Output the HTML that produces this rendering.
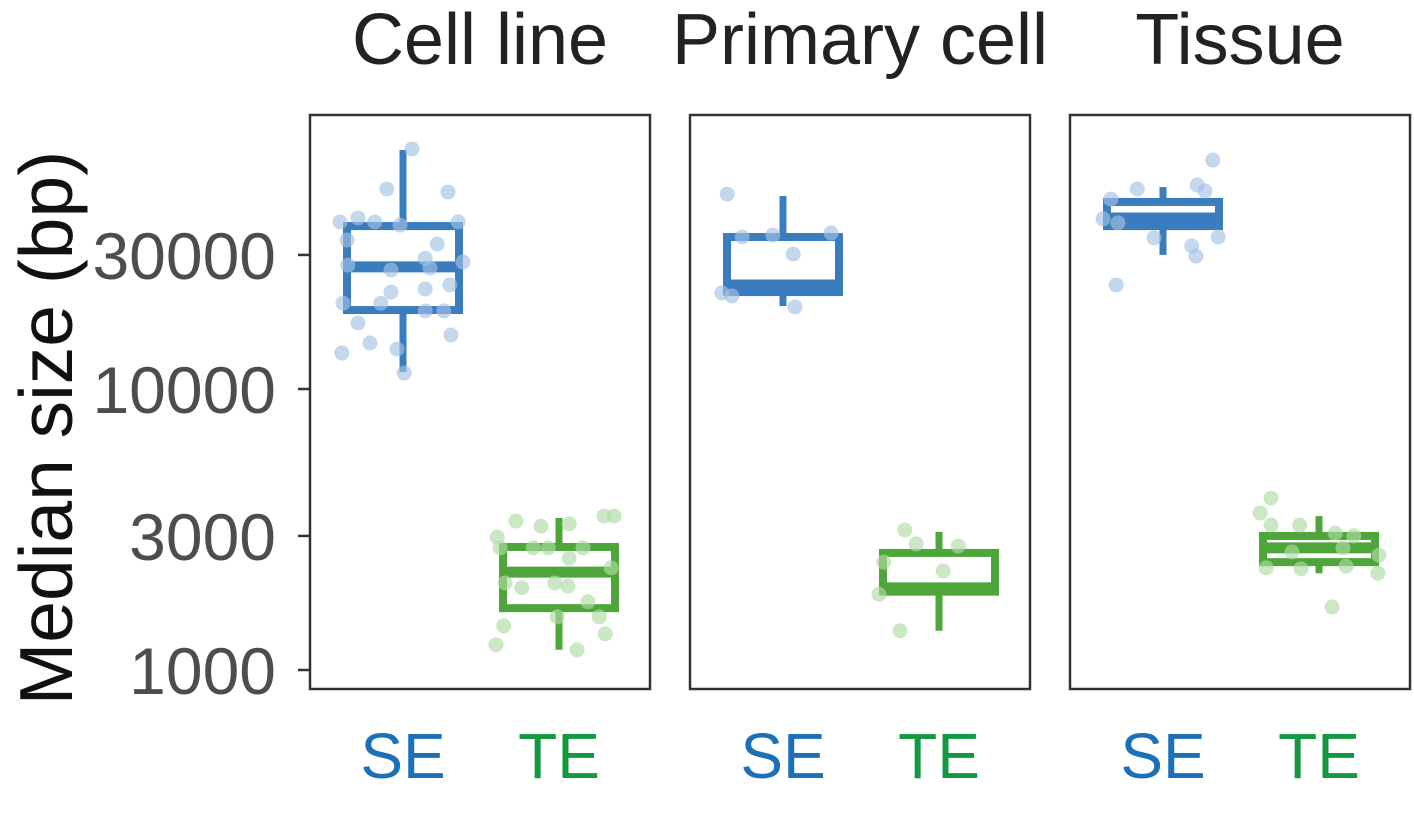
<!DOCTYPE html>
<html><head><meta charset="utf-8"><style>
html,body{margin:0;padding:0;background:#fff;}
svg text{font-family:"Liberation Sans",Arial,sans-serif;}
</style></head><body>
<svg id="chart" width="1414" height="809" xmlns="http://www.w3.org/2000/svg"></svg>
<script>
const panelNames = ["Cell line","Primary cell","Tissue"];
const groups = ["SE","TE"];
const tickValues = [1000,3000,10000,30000];
const tickLabels = ["1000","3000","10000","30000"];
// box stats: [lowWhisker, q1, median, q3, highWhisker]
const boxCellSE = [11500,19100,27200,38000,70900];
const boxCellTE = [1180,1660,2230,2740,3475];
const boxPrimSE = [19740,22130,23450,34750,48600];
const boxPrimTE = [1380,1900,1960,2610,3100];
const boxTisSE = [30000,38000,40600,46300,52300];
const boxTisTE = [2210,2420,2720,3000,3530];
const ptsCellSE = [71500,51500,50200,39300,40600,39300,39300,38300,33900,32800,29200,28300,26950,27600,26500,23450,22700,20200,20200,22130,18950,18950,17180,15560,14580,13430,13870,11400];
const jitCellSE = [0.15,-0.27,0.75,-1.05,-0.75,-0.47,0.92,-0.05,-0.93,0.57,0.37,1.0,0.45,-0.92,-0.2,0.78,0.37,-1.0,-0.37,-0.2,0.37,0.68,-0.75,0.8,-0.55,-1.02,-0.1,0.02];
const ptsCellTE = [3390,3250,3310,3530,3530,2720,2970,2720,2720,2720,2500,2310,2040,1960,2040,1990,1750,1545,1545,1435,1345,1230,1180];
const jitCellTE = [-0.72,-0.3,0.17,0.75,0.92,-0.98,-1.03,-0.43,-0.18,0.4,0.17,0.87,-0.9,-0.62,-0.07,0.15,0.48,-0.03,0.67,-0.92,0.77,-1.05,0.3];
const ptsPrimSE = [49400,34750,35300,35900,30200,21970,21430,19590];
const jitPrimSE = [-0.93,-0.68,-0.17,0.8,0.17,-1.02,-0.85,0.2];
const ptsPrimTE = [3150,2810,2760,2420,2250,1860,1380];
const jitPrimTE = [-0.57,-0.38,0.32,-0.92,0.07,-1.0,-0.65];
const ptsTisSE = [65300,47400,51500,53200,50700,40300,39000,34500,32300,34750,29730,23450];
const jitTisSE = [0.83,-0.87,-0.43,0.57,0.7,-1.0,-0.75,-0.15,0.48,0.92,0.55,-0.78];
const ptsTisTE = [4090,3620,3280,3280,3070,3000,2630,2720,2560,2310,2290,2340,2210,1675];
const jitTisTE = [-0.8,-0.98,-0.8,-0.32,0.27,0.58,-0.45,0.4,1.0,-0.88,-0.3,0.45,0.98,0.22];

const boxes = [[boxCellSE,boxCellTE],[boxPrimSE,boxPrimTE],[boxTisSE,boxTisTE]];
const pts = [[[ptsCellSE,jitCellSE],[ptsCellTE,jitCellTE]],[[ptsPrimSE,jitPrimSE],[ptsPrimTE,jitPrimTE]],[[ptsTisSE,jitTisSE],[ptsTisTE,jitTisTE]]];

const NS="http://www.w3.org/2000/svg";
const svg=document.getElementById('chart');
function mk(tag,attrs,parent){const e=document.createElementNS(NS,tag);for(const k in attrs)e.setAttribute(k,attrs[k]);(parent||svg).appendChild(e);return e;}
const yScale=v=>389-281*(Math.log10(v)-4);
const panelX=[310,690,1070], panelW=340, panelTop=115, panelBottom=689;
const dark=["#3a7dbf","#4ea53a"], light=["#a3c2e4","#aedca3"], lab=["#1b70b8","#13993f"];
const half=60;

tickValues.forEach((v,i)=>{
  const t=mk('line',{x1:298,x2:310,y1:yScale(v),y2:yScale(v),stroke:'#333','stroke-width':2.5});
  
  
  const l=mk('text',{x:276,y:yScale(v)+24,'text-anchor':'end','font-size':66,fill:'#4d4d4d'});
  l.textContent=tickLabels[i];
  
  
});
const yt=mk('text',{x:0,y:0,transform:'translate(72,428) rotate(-90)','text-anchor':'middle','font-size':75,fill:'#111'});
yt.textContent='Median size (bp)';



panelNames.forEach((name,p)=>{
  const x0=panelX[p];
  const g=mk('g',{});
  
  
  const title=mk('text',{x:x0+panelW/2,y:64,'text-anchor':'middle','font-size':72,fill:'#222'},g);
  title.textContent=name;
  
  
  const centers=[x0+93,x0+249];
  groups.forEach((grp,gi)=>{
    const cx=centers[gi];
    const b=boxes[p][gi];
    const wh=mk('line',{x1:cx,x2:cx,y1:yScale(b[0]),y2:yScale(b[4]),stroke:dark[gi],'stroke-width':7},g);
    
    
    const r=mk('rect',{x:cx-half+4,y:yScale(b[3]),width:2*half-8,height:yScale(b[1])-yScale(b[3]),fill:'#fff',stroke:dark[gi],'stroke-width':8},g);
    
    
    const m=mk('line',{x1:cx-half+4,x2:cx+half-4,y1:yScale(b[2]),y2:yScale(b[2]),stroke:dark[gi],'stroke-width':11},g);
    
    
    const [vals,jit]=pts[p][gi];
    vals.forEach((v,k)=>{
      const c=mk('circle',{cx:cx+jit[k]*half,cy:yScale(v),r:7.5,fill:light[gi],opacity:0.65},g);
      
      
    });
    const xl=mk('text',{x:cx,y:778,'text-anchor':'middle','font-size':64,fill:lab[gi]},g);
    xl.textContent=grp;
    
    
  });
  const fr=mk('rect',{x:x0,y:panelTop,width:panelW,height:panelBottom-panelTop,fill:'none',stroke:'#333','stroke-width':2.5},g);
  
  
});
</script>
</body></html>
